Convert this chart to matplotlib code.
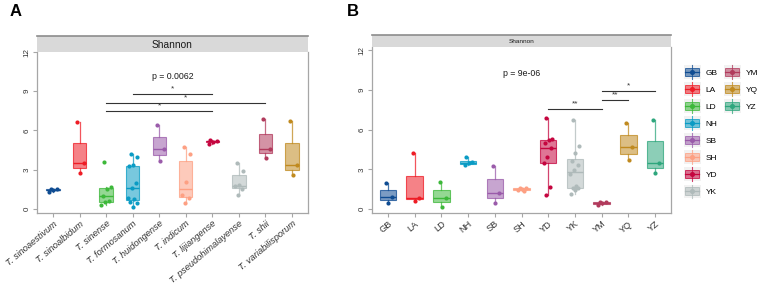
import numpy as np
import matplotlib
matplotlib.use("Agg")
import matplotlib.pyplot as plt
from matplotlib.patches import Rectangle
from matplotlib.lines import Line2D
from matplotlib.legend_handler import HandlerBase

plt.rcParams['font.family'] = ['Liberation Sans', 'DejaVu Sans']

# ---------------- data ----------------
species = ["T. sinoaestivum", "T. sinoalbidum", "T. sinense", "T. formosanum",
           "T. huidongense", "T. indicum", "T. lijiangense", "T. pseudohimalayense",
           "T. shii", "T. variabilisporum"]
shannon_a = [
    [1.55, 1.5, 1.45, 1.3],
    [6.64, 3.49, 2.72],
    [3.6, 1.65, 1.5, 1.0, 0.6, 0.5, 0.3],
    [4.2, 3.97, 3.38, 3.26, 2.02, 1.62, 0.82, 0.74, 0.56, 0.44, 0.18],
    [6.41, 4.59, 3.69],
    [4.74, 4.2, 2.03, 1.08, 0.82, 0.44],
    [5.25, 5.2, 5.15, 5.0],
    [3.5, 2.9, 1.8, 1.75, 1.55, 1.1],
    [6.85, 4.59, 3.9],
    [6.72, 3.38, 2.56],
]
pval_a = "p = 0.0062"
sig_a = [  # (group i, group j, height, label)
    (4, 7, 8.8, "*"),
    (3, 9, 8.1, "*"),
    (3, 7, 7.5, "*"),
]

sites = ["GB", "LA", "LD", "NH", "SB", "SH", "YD", "YK", "YM", "YQ", "YZ"]
shannon_b = [
    [1.99, 0.89, 0.43],
    [4.2, 0.86, 0.61],
    [2.02, 0.81, 0.18],
    [3.95, 3.55, 3.45, 3.35],
    [3.28, 1.21, 0.43],
    [1.6, 1.55, 1.5, 1.45, 1.35],
    [6.9, 5.25, 5.2, 4.95, 4.6, 3.95, 3.5, 1.7, 1.05],
    [6.74, 4.77, 4.22, 3.64, 3.33, 2.95, 2.63, 1.74, 1.61, 1.57, 1.44, 1.14],
    [0.55, 0.5, 0.45, 0.3],
    [6.49, 4.65, 3.71],
    [6.74, 3.46, 2.75],
]
pval_b = "p = 9e-06"
sig_b = [
    (7, 9, 7.55, "**"),
    (9, 10, 8.26, "**"),
    (9, 11, 8.9, "*"),
]

palette = ["#0F4C92", "#EE1C25", "#3DB83A", "#0A9BC4", "#9A5BAA", "#FDA083",
           "#C5053F", "#AFBABA", "#B13A5C", "#C08A1F", "#2EA67D"]

# ---------------- figure ----------------
W, H = 757, 285
fig = plt.figure(figsize=(W / 100, H / 100), dpi=100)


def rect(l, t, r, b):
    return [l / W, (H - b) / H, (r - l) / W, (b - t) / H]


def jitter(n, width):
    i = np.arange(n)
    return width * (((i * 0.618 + 0.31) % 1.0) - 0.5) * 2


def panel(ax, data, colors, bw, jw, ylim):
    pos = np.arange(1, len(data) + 1)
    for k, (vals, c) in enumerate(zip(data, colors)):
        bp = ax.boxplot([vals], positions=[pos[k]], widths=bw, showfliers=False,
                        showcaps=False, patch_artist=True, whis=1.5)
        for b in bp['boxes']:
            b.set_facecolor(matplotlib.colors.to_rgba(c, 0.55))
            b.set_edgecolor(matplotlib.colors.to_rgba(c, 0.75))
            b.set_linewidth(0.8)
        for wl in bp['whiskers']:
            wl.set_color(matplotlib.colors.to_rgba(c, 0.75))
            wl.set_linewidth(0.9)
        for m in bp['medians']:
            m.set_color(c)
            m.set_linewidth(1.0)
        vals = np.asarray(vals)
        ax.scatter(pos[k] + jitter(len(vals), jw), vals, s=9, color=c, zorder=3,
                   linewidths=0)
    ax.set_xlim(0.4, len(data) + 0.6)
    ax.set_ylim(*ylim)
    ax.set_yticks([0, 3, 6, 9, 12])
    ax.set_yticklabels(["0", "3", "6", "9", "12"])
    for s in ax.spines.values():
        s.set_color("#a6a6a6")
        s.set_linewidth(0.9)
    ax.spines['top'].set_visible(False)
    ax.tick_params(axis='both', colors="#a6a6a6", labelcolor="#333333",
                   length=3, width=0.8, labelsize=5.8, pad=1.5)
    for t in ax.get_yticklabels():
        t.set_rotation(90)
        t.set_va('center')
        t.set_ha('right')
    ax.set_xticks(pos)


def sig(ax, comps, txt_fs):
    for i, j, y, lab in comps:
        ax.plot([i, j], [y, y], color="#333333", lw=0.8)
        ax.text((i + j) / 2, y + 0.1, lab, ha='center', va='bottom',
                fontsize=txt_fs, color="#333333")


def strip(rect_, label, fs):
    sa = fig.add_axes(rect_)
    sa.set_xticks([]); sa.set_yticks([])
    sa.set_facecolor("#d9d9d9")
    for s in sa.spines.values():
        s.set_visible(False)
    sa.plot([0, 1], [1, 1], transform=sa.transAxes, color="#8c8c8c", lw=1.2,
            clip_on=False)
    sa.text(0.5, 0.45, label, transform=sa.transAxes, ha='center', va='center',
            fontsize=fs, color="#1a1a1a")


# Panel A
axA = fig.add_axes(rect(37, 52, 308, 213))
panel(axA, shannon_a, palette[:10], 0.5, 0.2, (-0.31, 12.0))
axA.set_xticklabels(species, rotation=40, ha='right', va='top',
                    rotation_mode='anchor', fontsize=6.7, style='italic')
axA.text(5.5, 10.15, pval_a, ha='center', va='center', fontsize=6.3, color="#1a1a1a")
sig(axA, sig_a, 6)
strip(rect(37, 36, 308, 52), "Shannon", 7.3)
fig.text(10 / W, 1 - 11 / H, "A", fontsize=12, fontweight='bold', va='center',
         ha='left')

# Panel B
axB = fig.add_axes(rect(372, 47, 671, 213))
panel(axB, shannon_b, palette, 0.62, 0.18, (-0.30, 12.23))
axB.set_xticklabels(sites, rotation=40, ha='right', va='top',
                    rotation_mode='anchor', fontsize=6.7)
axB.text(6, 10.2, pval_b, ha='center', va='center', fontsize=6.3, color="#1a1a1a")
sig(axB, sig_b, 6)
strip(rect(372, 35, 671, 47), "Shannon", 4.6)
fig.text(347 / W, 1 - 11 / H, "B", fontsize=12, fontweight='bold', va='center',
         ha='left')


# Legend with boxplot-like keys
class BoxKey(HandlerBase):
    def create_artists(self, legend, orig, xd, yd, w, h, fs, trans):
        c = orig.get_color()
        x0, y0 = -xd, -yd
        bg = Rectangle((x0 - 1, y0 - 2), w + 2, h + 4, facecolor="#f2f2f2",
                       edgecolor='none', transform=trans)
        vl = Line2D([x0 + w / 2] * 2, [y0 - 2, y0 + h + 2], color=c, lw=0.8,
                    alpha=0.75, transform=trans)
        r = Rectangle((x0, y0), w, h, facecolor=matplotlib.colors.to_rgba(c, 0.55),
                      edgecolor=matplotlib.colors.to_rgba(c, 0.75), lw=0.7,
                      transform=trans)
        hl = Line2D([x0, x0 + w], [y0 + h / 2] * 2, color=c, lw=0.9, transform=trans)
        dot = Line2D([x0 + w / 2], [y0 + h / 2], marker='o', ms=2.6, color=c,
                     lw=0, transform=trans)
        return [bg, vl, r, hl, dot]


handles = [Line2D([], [], color=c) for c in palette]
common = dict(frameon=False, fontsize=6, handlelength=1.7, handleheight=1.05,
              handletextpad=0.8, labelspacing=1.0, borderaxespad=0,
              borderpad=0, handler_map={Line2D: BoxKey()})
fig.legend(handles[:8], sites[:8], loc='upper left',
           bbox_to_anchor=(685 / W, 1 - 68 / H), **common)
fig.legend(handles[8:], sites[8:], loc='upper left',
           bbox_to_anchor=(725 / W, 1 - 68 / H), **common)

fig.savefig("out.png", dpi=100)
